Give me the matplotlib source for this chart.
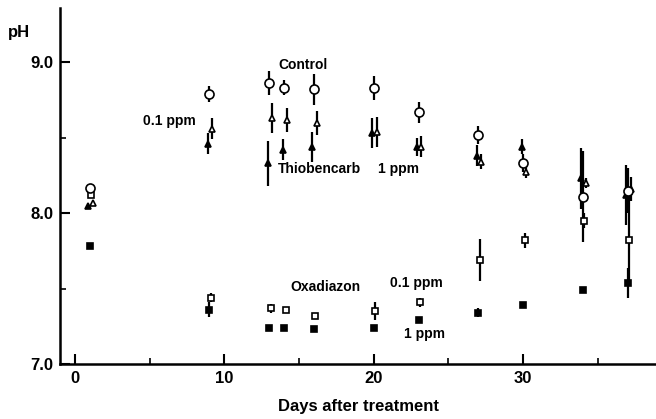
import numpy as np
import matplotlib
matplotlib.use('Agg')
import matplotlib.pyplot as plt
from matplotlib.ticker import MultipleLocator

# sampling days and pH means / error half-widths for each treatment
days = [1, 9, 13, 14, 16, 20, 23, 27, 30, 34, 37]

control = [8.17, 8.79, 8.86, 8.83, 8.82, 8.83, 8.67, 8.52, 8.33, 8.11, 8.15]
control_err = [0, 0.05, 0.08, 0.05, 0.10, 0.08, 0.07, 0.06, 0.06, 0.30, 0.15]

thio_01 = [8.07, 8.56, 8.63, 8.62, 8.60, 8.54, 8.44, 8.34, 8.27, 8.20, 8.16]
thio_01_err = [0, 0.07, 0.10, 0.08, 0.08, 0.10, 0.07, 0.05, 0.04, 0.03, 0.08]

thio_1 = [8.05, 8.46, 8.33, 8.42, 8.44, 8.53, 8.44, 8.38, 8.44, 8.23, 8.12]
thio_1_err = [0, 0.07, 0.15, 0.07, 0.10, 0.10, 0.06, 0.07, 0.05, 0.20, 0.20]

oxa_01 = [8.12, 7.44, 7.37, 7.36, 7.32, 7.35, 7.41, 7.69, 7.82, 7.95, 7.82]
oxa_01_err = [0, 0.03, 0.03, 0, 0, 0.06, 0.03, 0.14, 0.05, 0.05, 0.30]

oxa_1 = [7.78, 7.36, 7.24, 7.24, 7.23, 7.24, 7.29, 7.34, 7.39, 7.49, 7.54]
oxa_1_err = [0, 0.05, 0, 0, 0, 0, 0, 0.03, 0, 0, 0.10]

plt.rcParams['font.family'] = ['Liberation Sans', 'DejaVu Sans']
plt.rcParams['font.weight'] = 'bold'

fig = plt.figure(figsize=(6.56, 4.19), dpi=100)
ax = fig.add_axes([0.0915, 0.131, 0.9085, 0.85])

d = np.array(days, dtype=float)
series = [
    (oxa_1, oxa_1_err, 's', 'black', 4.5, 0.0),
    (oxa_01, oxa_01_err, 's', 'white', 5, 0.1),
    (thio_1, thio_1_err, '^', 'black', 5, -0.1),
    (thio_01, thio_01_err, '^', 'white', 5, 0.2),
    (control, control_err, 'o', 'white', 6.5, 0.0),
]
for vals, err, mk, fc, ms, dx in series:
    ax.errorbar(d + dx, vals, yerr=err, fmt=mk, mfc=fc, mec='black',
                mew=1.2, ms=ms, ecolor='black', elinewidth=1.6,
                capsize=0, zorder=3)

ax.set_xlim(-1.0, 38.9)
ax.set_ylim(7.0, 9.36)
ax.xaxis.set_major_locator(MultipleLocator(10))
ax.xaxis.set_minor_locator(MultipleLocator(5))
ax.yaxis.set_major_locator(MultipleLocator(1.0))
ax.yaxis.set_minor_locator(MultipleLocator(0.5))
ax.yaxis.set_major_formatter(matplotlib.ticker.FormatStrFormatter('%.1f'))
ax.tick_params(which='major', direction='in', length=7, width=1.5,
               labelsize=12, pad=5)
ax.tick_params(which='minor', direction='in', length=4, width=1.2)
for side in ('top', 'right'):
    ax.spines[side].set_visible(False)
for side in ('left', 'bottom'):
    ax.spines[side].set_linewidth(1.8)

ax.set_xlabel('Days after treatment', fontsize=12, fontweight='bold',
              labelpad=9)
fig.text(0.012, 0.912, 'pH', fontsize=12, fontweight='bold')

# series labels placed inside the plot
lab = dict(fontsize=10, fontweight='bold', va='center')
ax.text(13.6, 8.98, 'Control', **lab)
ax.text(4.55, 8.61, '0.1 ppm', **lab)
ax.text(13.6, 8.29, 'Thiobencarb', **lab)
ax.text(20.3, 8.29, '1 ppm', **lab)
ax.text(14.4, 7.51, 'Oxadiazon', **lab)
ax.text(21.1, 7.54, '0.1 ppm', **lab)
ax.text(22.0, 7.20, '1 ppm', **lab)

fig.savefig('out.png', dpi=100)
